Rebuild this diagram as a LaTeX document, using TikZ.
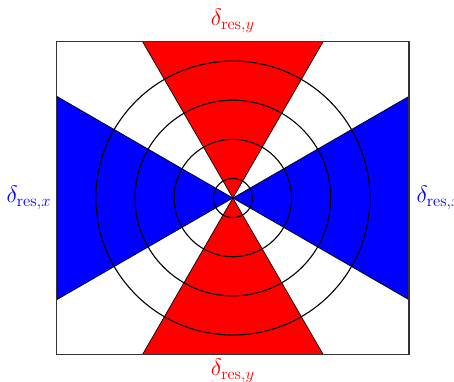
\documentclass[tikz,border=0pt]{standalone}
\begin{document}
\begin{tikzpicture}[
  wedgeR/.style={fill=red,draw=black,line width=0.5pt},
  wedgeB/.style={fill=blue,draw=black,line width=0.5pt},
  ring/.style={draw=black,line width=0.8pt},
  lblR/.style={text=red,font=\LARGE,inner sep=0pt},
  lblB/.style={text=blue,font=\LARGE,inner sep=0pt}]
\useasboundingbox (-5.95,-4.70) rectangle (5.65,5.06);
\coordinate (O) at (0,0);
% red wedges
\draw[wedgeR] (O) -- (-2.3094,4) -- (2.3094,4) -- cycle;
\draw[wedgeR] (O) -- (-2.3094,-4) -- (2.3094,-4) -- cycle;
% blue wedges
\draw[wedgeB] (O) -- (4.5,2.5981) -- (4.5,-2.5981) -- cycle;
\draw[wedgeB] (O) -- (-4.5,2.5981) -- (-4.5,-2.5981) -- cycle;
% circles
\foreach \r in {0.5,1.5,2.5,3.5} \draw[ring] (O) circle (\r);
% frame
\node[draw=black!80,line width=0.9pt,minimum width=9cm,minimum height=8cm,inner sep=0pt] (frame) at (O) {};
% labels
\node[lblR,anchor=south] (top) at ([yshift=0.2cm]frame.north) {$\delta_{\mathrm{res},y}$};
\node[lblR,anchor=north] (bot) at ([yshift=-0.1cm]frame.south) {$\delta_{\mathrm{res},y}$};
\node[lblB,anchor=east] (left) at ([xshift=-0.12cm]frame.west) {$\delta_{\mathrm{res},x}$};
\node[lblB,anchor=west] (right) at ([xshift=0.17cm]frame.east) {$\delta_{\mathrm{res},x}$};
\end{tikzpicture}
\end{document}
